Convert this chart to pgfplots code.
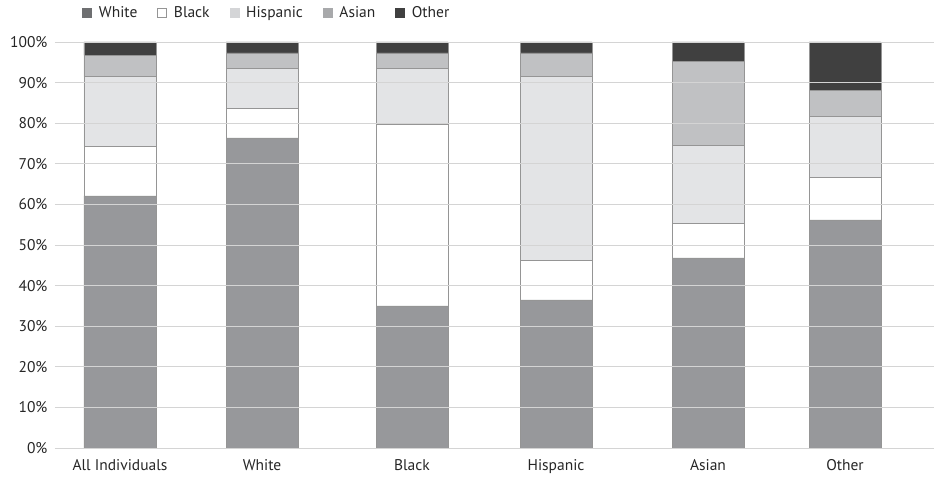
\documentclass[border=0pt]{standalone}
\usepackage{pgfplots}
\pgfplotsset{compat=1.18}
\usepackage{fontspec}
\setmainfont{PT Sans}
\definecolor{cWhite}{HTML}{97989B}
\definecolor{cBlack}{HTML}{FFFFFF}
\definecolor{cHisp}{HTML}{E3E4E6}
\definecolor{cAsian}{HTML}{C0C1C3}
\definecolor{cOther}{HTML}{404040}
\definecolor{lWhite}{HTML}{6E6F71}
\definecolor{lHisp}{HTML}{D4D5D7}
\definecolor{lAsian}{HTML}{A8A9AB}
\definecolor{edge}{HTML}{959595}
\definecolor{gridc}{HTML}{D4D4D4}
\pgfplotstableread{
x   white black hisp asian other
120 62.1 12.2 17.2 5.2 3.3
262 76.4 7.3 9.7 3.9 2.7
412 35.0 44.7 13.7 3.9 2.7
556 36.5 9.8 45.2 5.8 2.7
708 46.8 8.5 19.2 20.8 4.7
845 56.2 10.4 15.0 6.5 11.9
}\datatable
\begin{document}
\begin{tikzpicture}[x=1pt,y=1pt]
\path[use as bounding box] (-55pt,-31pt) rectangle (879pt,448pt);
\begin{axis}[
  at={(0,0)}, anchor=south west,
  scale only axis, width=879pt, height=406pt,
  ybar stacked, bar width=72,
  xmin=55, xmax=934, ymin=0, ymax=100,
  xtick={120,262,412,556,708,845},
  xticklabels={All Individuals,White,Black,Hispanic,Asian,Other},
  ytick={0,10,...,100},
  yticklabel={\pgfmathprintnumber{\tick}\%},
  /pgf/number format/assume math mode=true,
  major tick length=0pt,
  axis line style={draw=none},
  ymajorgrids, grid style={gridc, line width=0.8pt},
  axis on top,
  tick label style={font=\fontsize{15.5}{17}\selectfont, text=black!85},
  yticklabel style={xshift=-4pt},
  xticklabel style={yshift=-8pt},
  every axis plot/.append style={draw=edge, line width=0.6pt, area legend},
  legend columns=-1,
  legend style={at={(0.031,1.072)}, anchor=west, draw=none, fill=none,
    font=\fontsize{15.5}{17}\selectfont, text=black!85,
    /tikz/every odd column/.append style={column sep=5pt},
    /tikz/every even column/.append style={column sep=18pt},
    inner sep=0pt},
  legend cell align=left,
]
\addplot[fill=cWhite, legend image code/.code={\draw[fill=lWhite,draw=lWhite,line width=0.5pt] (0pt,-4.5pt) rectangle (9pt,4.5pt);}] table[x=x,y=white]{\datatable};
\addplot[fill=cBlack, legend image code/.code={\draw[fill=white,draw=edge,line width=0.6pt] (0pt,-4.5pt) rectangle (9pt,4.5pt);}] table[x=x,y=black]{\datatable};
\addplot[fill=cHisp, legend image code/.code={\draw[fill=lHisp,draw=lHisp,line width=0.5pt] (0pt,-4.5pt) rectangle (9pt,4.5pt);}] table[x=x,y=hisp]{\datatable};
\addplot[fill=cAsian, legend image code/.code={\draw[fill=lAsian,draw=lAsian,line width=0.5pt] (0pt,-4.5pt) rectangle (9pt,4.5pt);}] table[x=x,y=asian]{\datatable};
\addplot[fill=cOther, legend image code/.code={\draw[fill=cOther,draw=cOther,line width=0.5pt] (0pt,-4.5pt) rectangle (9pt,4.5pt);}] table[x=x,y=other]{\datatable};
\legend{White,Black,Hispanic,Asian,Other}
\end{axis}
\end{tikzpicture}
\end{document}
